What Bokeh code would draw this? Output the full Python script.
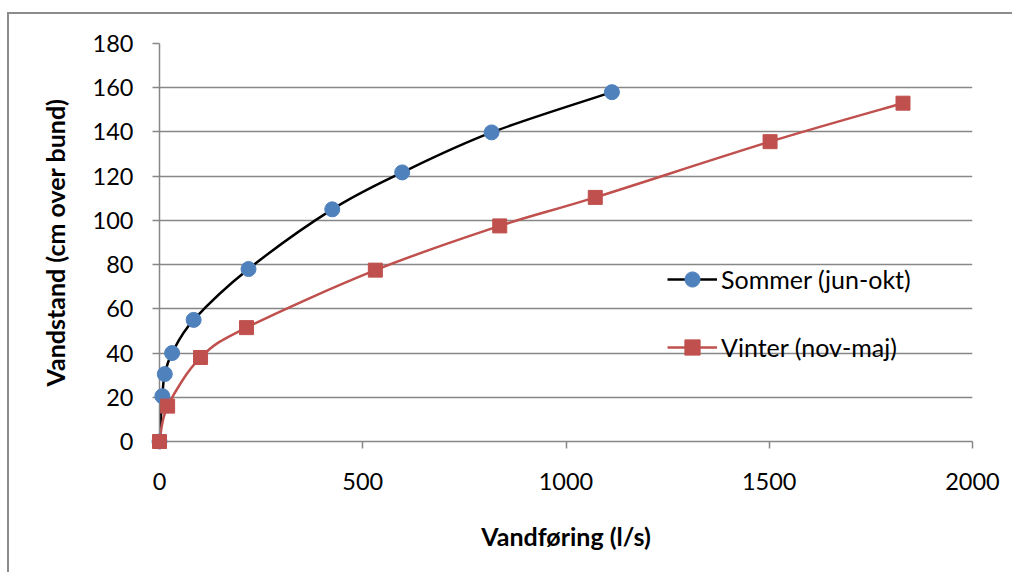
import numpy as np
from bokeh.plotting import figure
from bokeh.models import Range1d, FixedTicker, Legend, LegendItem, ColumnDataSource
from bokeh.embed import file_html
from bokeh.resources import INLINE

# ---- data ----
sommer_q = [0, 7, 13, 31, 84, 219, 425, 597, 817, 1113]
sommer_h = [0, 20.5, 30.5, 40, 55, 78, 105, 121.7, 139.8, 158]
vinter_q = [0, 20, 101, 214, 531, 837, 1072, 1502, 1829]
vinter_h = [0, 16, 38, 51.5, 77.5, 97.5, 110.4, 135.6, 153]
sommer_label = "Sommer (jun-okt)"
vinter_label = "Vinter (nov-maj)"
x_ticks = [0, 500, 1000, 1500, 2000]
y_ticks = [0, 20, 40, 60, 80, 100, 120, 140, 160, 180]
x_title = "Vandføring (l/s)"
y_title = "Vandstand (cm over bund)"

FONT = "Lato"
GRID = "#878787"
BLUE = "#4F81BD"
RED = "#C0504D"


def smooth_segments(xs, ys):
    """Catmull-Rom -> cubic Bezier segments (Excel-style smoothed line)."""
    x = np.asarray(xs, float)
    y = np.asarray(ys, float)
    xp = np.concatenate([[x[0]], x, [x[-1]]])
    yp = np.concatenate([[y[0]], y, [y[-1]]])
    n = len(x) - 1
    d = dict(x0=[], y0=[], x1=[], y1=[], cx0=[], cy0=[], cx1=[], cy1=[])
    for i in range(n):
        p0x, p0y = xp[i], yp[i]
        p1x, p1y = xp[i + 1], yp[i + 1]
        p2x, p2y = xp[i + 2], yp[i + 2]
        p3x, p3y = xp[i + 3], yp[i + 3]
        d["x0"].append(p1x); d["y0"].append(p1y)
        d["x1"].append(p2x); d["y1"].append(p2y)
        d["cx0"].append(p1x + (p2x - p0x) / 6); d["cy0"].append(p1y + (p2y - p0y) / 6)
        d["cx1"].append(p2x - (p3x - p1x) / 6); d["cy1"].append(p2y - (p3y - p1y) / 6)
    return ColumnDataSource(d)


W, H = 1005, 560
p = figure(width=W, height=H, output_backend="svg", toolbar_location=None,
           x_range=Range1d(0, 2000), y_range=Range1d(0, 180),
           min_border_left=150, min_border_right=42, min_border_top=29, min_border_bottom=133)
p.styles = {"border-top": "2px solid #8c8c8c", "border-left": "2px solid #8c8c8c",
            "margin-top": "12px", "margin-left": "7px"}
p.outline_line_color = None
p.background_fill_color = "white"
p.border_fill_color = "white"

# grid
p.xgrid.visible = False
p.ygrid.ticker = FixedTicker(ticks=y_ticks)
p.ygrid.grid_line_color = GRID
p.ygrid.grid_line_width = 1.5

for ax in (p.xaxis[0], p.yaxis[0]):
    ax.axis_line_color = GRID
    ax.axis_line_width = 1.5
    ax.major_tick_line_color = GRID
    ax.major_tick_line_width = 1.5
    ax.major_tick_in = 0
    ax.major_tick_out = 7
    ax.minor_tick_line_color = None
    ax.major_label_text_font = FONT
    ax.major_label_text_font_size = "23.5px"
    ax.major_label_text_color = "black"
    ax.axis_label_text_font = FONT
    ax.axis_label_text_font_size = "25px"
    ax.axis_label_text_font_style = "bold"
    ax.axis_label_text_color = "black"

p.xaxis.ticker = FixedTicker(ticks=x_ticks)
p.yaxis.ticker = FixedTicker(ticks=y_ticks)
p.xaxis.major_label_standoff = 24
p.yaxis.major_label_standoff = 19
p.xaxis.axis_label = x_title
p.yaxis.axis_label = y_title
p.xaxis.axis_label_standoff = 28
p.yaxis.axis_label_standoff = 20

# smoothed curves
p.bezier(source=smooth_segments(sommer_q, sommer_h), x0="x0", y0="y0", x1="x1", y1="y1",
         cx0="cx0", cy0="cy0", cx1="cx1", cy1="cy1", line_color="black", line_width=2.5)
p.bezier(source=smooth_segments(vinter_q, vinter_h), x0="x0", y0="y0", x1="x1", y1="y1",
         cx0="cx0", cy0="cy0", cx1="cx1", cy1="cy1", line_color=RED, line_width=2.5)

# markers
s_pts = p.scatter(sommer_q, sommer_h, marker="circle", size=15, fill_color=BLUE, line_color=BLUE,
                  level="overlay")
v_pts = p.scatter(vinter_q, vinter_h, marker="square", size=14, fill_color=RED, line_color=RED,
                  level="overlay")

# legend proxies (single NaN point: nothing drawn in the plot, only the legend glyph)
s_line = p.line(x=[np.nan], y=[np.nan], line_color="black", line_width=2.5)
v_line = p.line(x=[np.nan], y=[np.nan], line_color=RED, line_width=2.5)

legend = Legend(items=[LegendItem(label=sommer_label, renderers=[s_line, s_pts]),
                       LegendItem(label=vinter_label, renderers=[v_line, v_pts])],
                location=(508, 75), orientation="vertical",
                border_line_color=None, background_fill_alpha=0,
                label_text_font=FONT, label_text_font_size="25px", label_text_color="black",
                glyph_width=50, glyph_height=38, label_standoff=4, spacing=30, padding=0, margin=0)
p.add_layout(legend)

open("out.html", "w").write(file_html(p, INLINE))
